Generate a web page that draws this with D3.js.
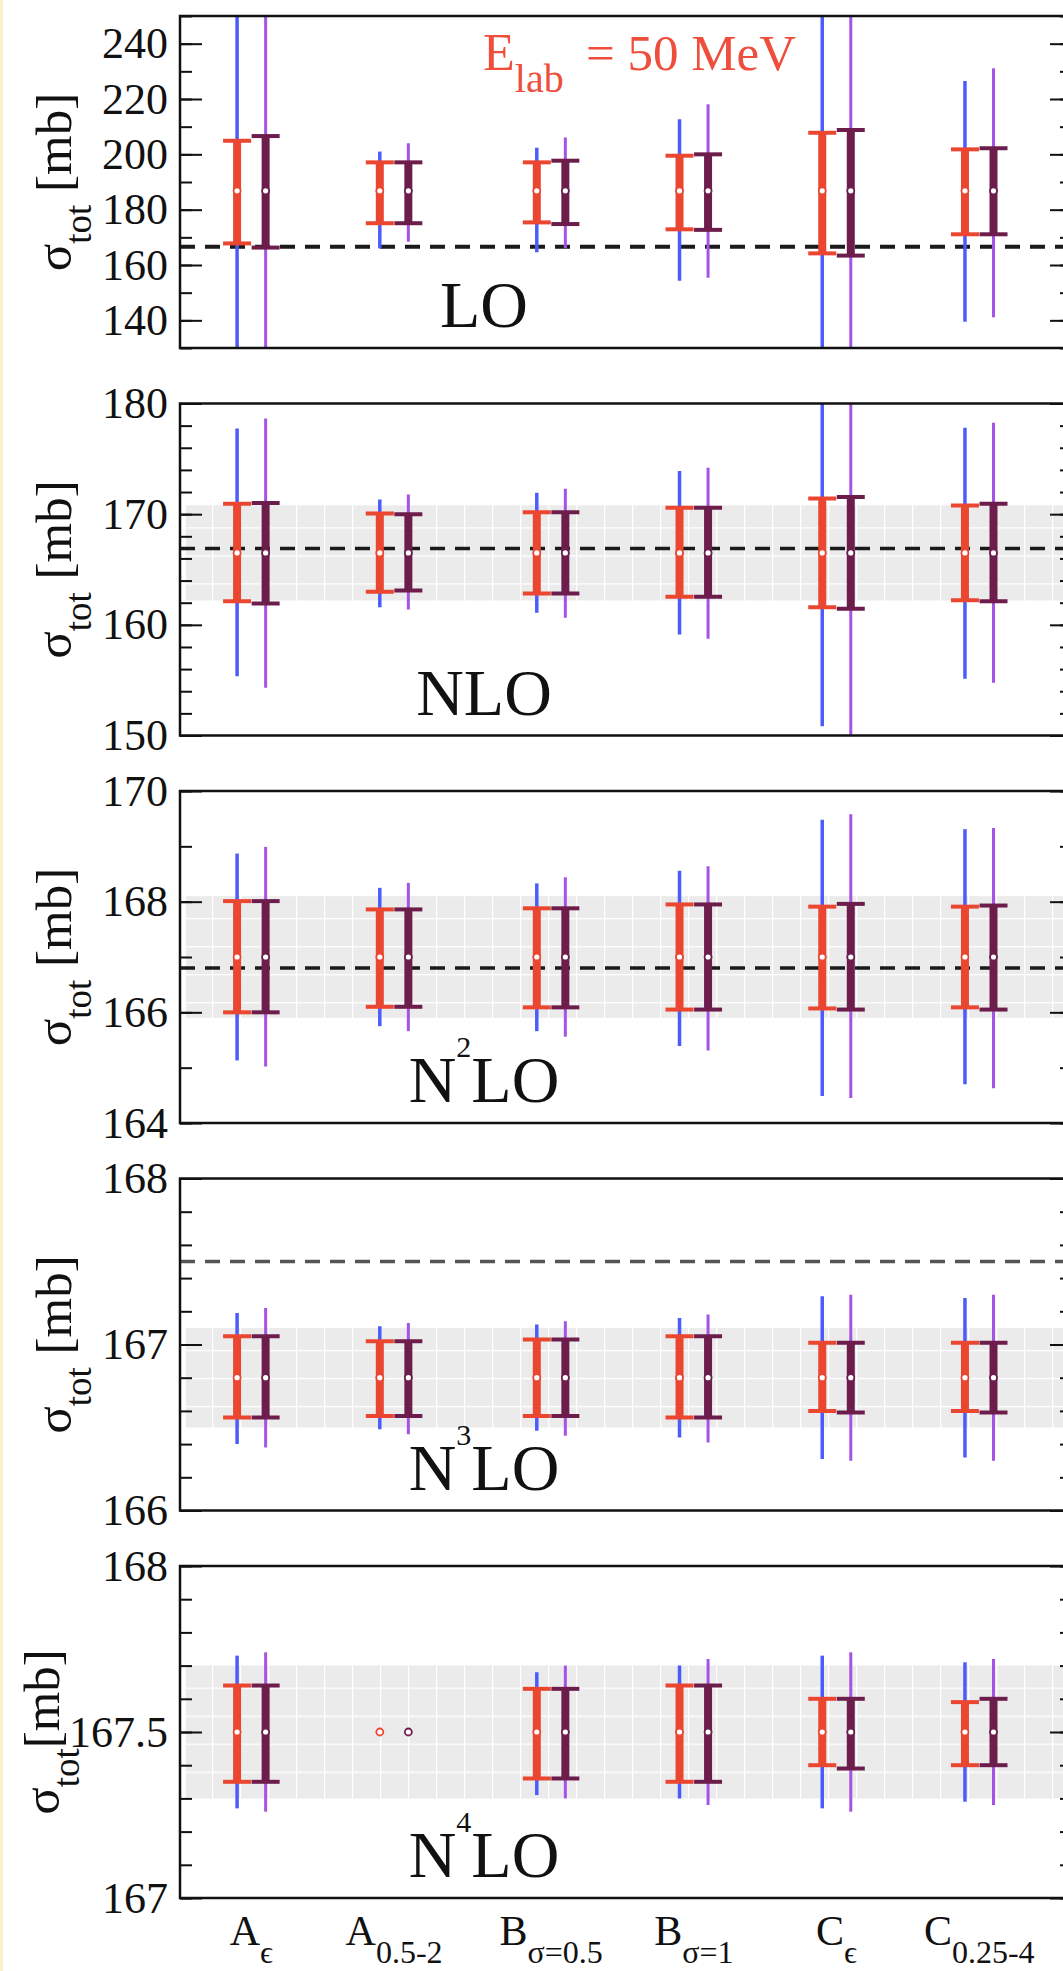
<!DOCTYPE html>
<html>
<head>
<meta charset="utf-8">
<script src="https://cdn.jsdelivr.net/npm/d3@7"></script>
<style>
  body { margin: 0; background: #fff; }
  svg { display: block; }
  text, tspan { font-family: "Liberation Serif" !important; }
</style>
</head>
<body>
<div id="chart"></div>
<script>
// x categories: main letter, subscript, and x value on the plot
const catMain = ['A', 'A', 'B', 'B', 'C', 'C'];
const catSub = ['ϵ', '0.5-2', 'σ=0.5', 'σ=1', 'ϵ', '0.25-4'];
const catX = [1, 2, 3.1, 4.1, 5.1, 6.1];

// one panel per chiral order
const orderPre = ['', 'N', 'N', 'N', 'N'];
const orderSup = ['', '', '2', '3', '4'];
const yDomains = [[130, 250], [150, 180], [164, 170], [166, 168], [167, 168]];
const majorTicks = [
  [140, 160, 180, 200, 220, 240],
  [150, 160, 170, 180],
  [164, 166, 168, 170],
  [166, 167, 168],
  [167, 167.5, 168]
];
const minorStep = [10, 2, 1, 0.2, 0.1];

// central value, dashed reference line, grey band
const centers = [186.8, 166.5, 167.0, 166.8, 167.5];
const dashedRef = [166.6, 166.9, 166.8, 167.5, null];
const bands = [null, [162.2, 170.8], [165.9, 168.1], [166.5, 167.1], [167.3, 167.7]];

// [low, high] per panel, per category
const redBars = [
  [[167.8, 204.9], [175.1, 197.1], [175.4, 197.1], [172.9, 199.5], [164.2, 207.8], [171.1, 201.8]],
  [[162.14, 170.93], [163.0, 170.06], [162.83, 170.18], [162.53, 170.57], [161.6, 171.42], [162.23, 170.78]],
  [[166.0, 168.01], [166.1, 167.86], [166.09, 167.88], [166.05, 167.95], [166.07, 167.91], [166.09, 167.91]],
  [[166.56, 167.05], [166.57, 167.02], [166.57, 167.03], [166.56, 167.05], [166.6, 167.01], [166.6, 167.01]],
  [[167.35, 167.64], null, [167.36, 167.63], [167.35, 167.64], [167.4, 167.6], [167.4, 167.59]]
];
const blueLines = [
  [[122, 252], [166.0, 201.0], [164.6, 202.4], [154.3, 212.7], [122, 252], [139.5, 226.5]],
  [[155.36, 177.74], [161.6, 171.33], [161.09, 171.93], [159.13, 173.89], [150.84, 182.2], [155.12, 177.8]],
  [[165.13, 168.87], [165.75, 168.25], [165.66, 168.33], [165.39, 168.56], [164.49, 169.48], [164.7, 169.31]],
  [[166.4, 167.19], [166.49, 167.11], [166.48, 167.12], [166.44, 167.16], [166.31, 167.29], [166.32, 167.28]],
  [[167.27, 167.73], null, [167.31, 167.68], [167.3, 167.7], [167.27, 167.73], [167.29, 167.71]]
];
const plumBars = [
  [[166.3, 206.6], [175.1, 197.1], [174.8, 197.7], [172.7, 200.0], [163.4, 208.8], [171.1, 202.2]],
  [[161.93, 171.0], [163.1, 170.0], [162.83, 170.18], [162.53, 170.57], [161.45, 171.54], [162.14, 170.93]],
  [[166.0, 168.01], [166.1, 167.86], [166.09, 167.88], [166.05, 167.95], [166.05, 167.96], [166.05, 167.93]],
  [[166.56, 167.05], [166.57, 167.02], [166.57, 167.03], [166.56, 167.05], [166.59, 167.01], [166.59, 167.01]],
  [[167.35, 167.64], null, [167.36, 167.63], [167.35, 167.64], [167.39, 167.6], [167.4, 167.6]]
];
const violetLines = [
  [[121, 253], [168.4, 204.0], [166.0, 206.1], [155.4, 218.1], [121, 253], [141.1, 231.1]],
  [[154.31, 178.64], [161.39, 171.78], [160.63, 172.29], [158.74, 174.19], [149.5, 183.5], [154.76, 178.25]],
  [[165.02, 168.99], [165.66, 168.34], [165.56, 168.44], [165.31, 168.64], [164.45, 169.58], [164.63, 169.33]],
  [[166.38, 167.22], [166.46, 167.13], [166.45, 167.14], [166.41, 167.18], [166.3, 167.3], [166.3, 167.3]],
  [[167.26, 167.74], null, [167.3, 167.7], [167.28, 167.72], [167.26, 167.74], [167.28, 167.72]]
];

const W = 1063, H = 1971;
const left = 180, right = 1072;
const panelH = 332;
const panelTop = (i) => 16 + i * 387.5;

const series = [
  { bars: redBars, lines: blueLines, dx: -0.1, bar: '#ea4630', line: '#4a5cfb', lineW: 3.5 },
  { bars: plumBars, lines: violetLines, dx: 0.1, bar: '#6c1d4c', line: '#a553e6', lineW: 3 }
];

const svg = d3.select('#chart').append('svg').attr('width', W).attr('height', H);
svg.append('rect').attr('width', W).attr('height', H).attr('fill', '#fff');
// thin cream strip on the left edge of the scan
svg.append('rect').attr('width', 3).attr('height', H).attr('fill', '#fbf0cc');

const defs = svg.append('defs');
const x = d3.scaleLinear().domain([0.5, 6.75]).range([left, right]);

yDomains.forEach((dom, i) => {
  const top = panelTop(i);
  const y = d3.scaleLinear().domain(dom).range([top + panelH, top]);

  defs.append('clipPath').attr('id', 'clip' + i)
    .append('rect').attr('x', left).attr('y', top).attr('width', right - left).attr('height', panelH);

  const g = svg.append('g');
  const plot = g.append('g').attr('clip-path', `url(#clip${i})`);

  // grey band with a white grid pattern
  if (bands[i]) {
    const pat = defs.append('pattern').attr('id', 'pat' + i)
      .attr('patternUnits', 'userSpaceOnUse')
      .attr('x', 212).attr('y', y(bands[i][1]) + 22)
      .attr('width', 28).attr('height', 28);
    pat.append('rect').attr('width', 28).attr('height', 28).attr('fill', '#ebebeb');
    pat.append('path').attr('d', 'M0,0V28M0,0H28').attr('stroke', '#fff').attr('stroke-width', 2.5);
    plot.append('rect')
      .attr('x', x(0.54)).attr('width', right - x(0.54))
      .attr('y', y(bands[i][1])).attr('height', y(bands[i][0]) - y(bands[i][1]))
      .attr('fill', `url(#pat${i})`);
  }

  if (dashedRef[i] !== null) {
    plot.append('line')
      .attr('x1', left).attr('x2', right)
      .attr('y1', y(dashedRef[i])).attr('y2', y(dashedRef[i]))
      .attr('stroke', i === 3 ? '#555' : '#1a1a1a')
      .attr('stroke-width', i === 0 ? 4 : 3.5)
      .attr('stroke-dasharray', '15,10');
  }

  series.forEach((s) => {
    const lineData = s.lines[i].map((d, k) => ({ d, k })).filter((o) => o.d);
    plot.selectAll(null).data(lineData).enter().append('line')
      .attr('x1', (o) => x(catX[o.k] + s.dx)).attr('x2', (o) => x(catX[o.k] + s.dx))
      .attr('y1', (o) => y(o.d[0])).attr('y2', (o) => y(o.d[1]))
      .attr('stroke', s.line).attr('stroke-width', s.lineW);

    const barData = s.bars[i].map((d, k) => ({ d, k })).filter((o) => o.d);
    plot.selectAll(null).data(barData).enter().append('line')
      .attr('x1', (o) => x(catX[o.k] + s.dx)).attr('x2', (o) => x(catX[o.k] + s.dx))
      .attr('y1', (o) => y(o.d[0])).attr('y2', (o) => y(o.d[1]))
      .attr('stroke', s.bar).attr('stroke-width', 8);

    barData.forEach((o) => {
      o.d.forEach((v) => {
        plot.append('line')
          .attr('x1', x(catX[o.k] + s.dx) - 14).attr('x2', x(catX[o.k] + s.dx) + 14)
          .attr('y1', y(v)).attr('y2', y(v))
          .attr('stroke', s.bar).attr('stroke-width', 4);
      });
    });
  });

  // centre markers
  series.forEach((s) => {
    plot.selectAll(null).data(catX).enter().append('circle')
      .attr('cx', (c) => x(c + s.dx)).attr('cy', y(centers[i]))
      .attr('r', 3.5).attr('fill', '#fff')
      .attr('stroke', s.bar).attr('stroke-width', 1.8);
  });

  // frame
  g.append('rect')
    .attr('x', left).attr('y', top).attr('width', right - left).attr('height', panelH)
    .attr('fill', 'none').attr('stroke', '#111').attr('stroke-width', 2.5);

  // ticks
  const n = Math.round((dom[1] - dom[0]) / minorStep[i]);
  const minor = d3.range(0, n + 1).map((k) => +(dom[0] + k * minorStep[i]).toFixed(3));

  const axes = [
    d3.axisLeft(y).tickValues(majorTicks[i]).tickSize(-22).tickPadding(12).tickFormat(d3.format('~f')),
    d3.axisLeft(y).tickValues(minor).tickSize(-12).tickFormat(''),
  ];
  axes.forEach((ax) => {
    const a = g.append('g').attr('transform', `translate(${left},0)`).call(ax);
    a.attr('font-family', null).attr('font-size', null);
    a.select('.domain').remove();
    a.selectAll('line').attr('stroke', '#111').attr('stroke-width', 2);
    a.selectAll('text').attr('font-size', 44).attr('fill', '#111');
  });
  [d3.axisRight(y).tickValues(majorTicks[i]).tickSize(-22).tickFormat(''),
   d3.axisRight(y).tickValues(minor).tickSize(-12).tickFormat('')].forEach((ax) => {
    const a = g.append('g').attr('transform', `translate(${right},0)`).call(ax);
    a.select('.domain').remove();
    a.selectAll('line').attr('stroke', '#111').attr('stroke-width', 2);
  });

  // y axis title
  const cy = top + panelH / 2;
  const bx = i === 4 ? 59 : 71;
  const yt = g.append('text')
    .attr('transform', `translate(${bx},${cy}) rotate(-90)`)
    .attr('text-anchor', 'middle').attr('font-size', 51).attr('fill', '#111');
  yt.append('tspan').text('σ');
  yt.append('tspan').attr('font-size', 37).attr('dy', 20).text('tot');
  yt.append('tspan').attr('dy', -20).text(i === 4 ? '[mb]' : ' [mb]');

  // order label
  const ol = g.append('text')
    .attr('x', 484).attr('y', top + 311)
    .attr('text-anchor', 'middle').attr('font-size', 66).attr('fill', '#111');
  ol.append('tspan').text(orderPre[i]);
  if (orderSup[i]) {
    ol.append('tspan').attr('font-size', 30).attr('dy', -45).text(orderSup[i]);
    ol.append('tspan').attr('dy', 45).text('LO');
  } else {
    ol.append('tspan').text('LO');
  }
});

// energy label
const title = svg.append('text').attr('x', 483).attr('y', 70)
  .attr('font-size', 52).attr('fill', '#ef4e3c');
title.append('tspan').text('E');
title.append('tspan').attr('font-size', 40).attr('dy', 22).text('lab');
title.append('tspan').attr('x', 586).attr('dy', -22).attr('font-size', 51).text('= 50 MeV');

// category labels under the last panel
const labels = svg.selectAll('.cat').data(catX).enter().append('text')
  .attr('class', 'cat')
  .attr('x', (c) => x(c)).attr('y', 1945)
  .attr('text-anchor', 'middle').attr('font-size', 42).attr('fill', '#111');
labels.append('tspan').text((c, k) => catMain[k]);
labels.append('tspan').attr('font-size', 32).attr('dy', 18).text((c, k) => catSub[k]);

// serif everywhere, as in the original figure
svg.selectAll('text, tspan')
  .attr('font-family', 'Liberation Serif')
  .style('font-family', '"Liberation Serif"');
</script>
</body>
</html>
